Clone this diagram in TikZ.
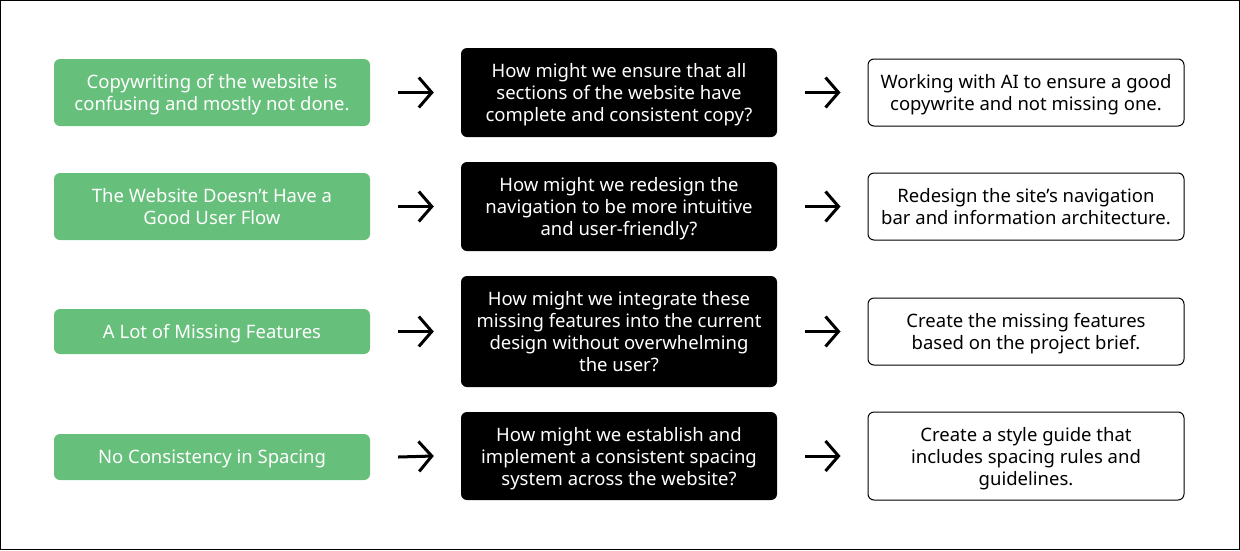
\documentclass[tikz,border=0pt]{standalone}
\usepackage{fontspec}
\setmainfont{Noto Sans}
\usetikzlibrary{arrows.meta}
\definecolor{probgreen}{HTML}{66BF7A}

\begin{document}
\begin{tikzpicture}[x=1pt,y=-1pt,
    box/.style={rounded corners=6pt,minimum width=316pt,inner sep=0pt,align=center,text depth=0pt,
        font=\fontsize{18.5}{22}\selectfont},
    problem/.style={box,fill=probgreen,text=white},
    question/.style={box,fill=black,text=white},
    answer/.style={box,draw=black,line width=1pt,fill=white,text=black},
    flow/.style={line width=3pt,-{Straight Barb[length=13pt,width=30pt]}}]

    \draw[line width=1pt] (0.5,0.5) rectangle (1239.5,549.5);

    \node[problem,minimum height=67pt] (p1) at (212,92.5) {Copywriting of the website is\\confusing and mostly not done.};
    \node[problem,minimum height=67pt] (p2) at (212,206.5) {The Website Doesn’t Have a\\Good User Flow};
    \node[problem,minimum height=45pt] (p3) at (212,331.5) {A Lot of Missing Features};
    \node[problem,minimum height=46pt] (p4) at (212,457) {No Consistency in Spacing};

    \node[question,minimum height=89pt] (q1) at (619,92.5) {How might we ensure that all\\sections of the website have\\complete and consistent copy?};
    \node[question,minimum height=89pt] (q2) at (619,206.5) {How might we redesign the\\navigation to be more intuitive\\and user-friendly?};
    \node[question,minimum height=111pt] (q3) at (619,331.5) {How might we integrate these\\missing features into the current\\design without overwhelming\\the user?};
    \node[question,minimum height=88pt] (q4) at (619,456) {How might we establish and\\implement a consistent spacing\\system across the website?};

    \node[answer,minimum height=67pt] (a1) at (1026,92.5) {Working with AI to ensure a good\\copywrite and not missing one.};
    \node[answer,minimum height=67pt] (a2) at (1026,206.5) {Redesign the site’s navigation\\bar and information architecture.};
    \node[answer,minimum height=67pt] (a3) at (1026,331.5) {Create the missing features\\based on the project brief.};
    \node[answer,minimum height=88pt] (a4) at (1026,456) {Create a style guide that\\includes spacing rules and\\guidelines.};

    \draw[flow] ([xshift=28pt]p1.east) -- ([xshift=-27pt]q1.west);
    \draw[flow] ([xshift=28pt]p2.east) -- ([xshift=-27pt]q2.west);
    \draw[flow] ([xshift=28pt]p3.east) -- ([xshift=-27pt]q3.west);
    \draw[flow] ([xshift=28pt]p4.east) -- ([xshift=-27pt]q4.west);

    \draw[flow] ([xshift=28pt]q1.east) -- ([xshift=-27pt]a1.west);
    \draw[flow] ([xshift=28pt]q2.east) -- ([xshift=-27pt]a2.west);
    \draw[flow] ([xshift=28pt]q3.east) -- ([xshift=-27pt]a3.west);
    \draw[flow] ([xshift=28pt]q4.east) -- ([xshift=-27pt]a4.west);
\end{tikzpicture}
\end{document}
